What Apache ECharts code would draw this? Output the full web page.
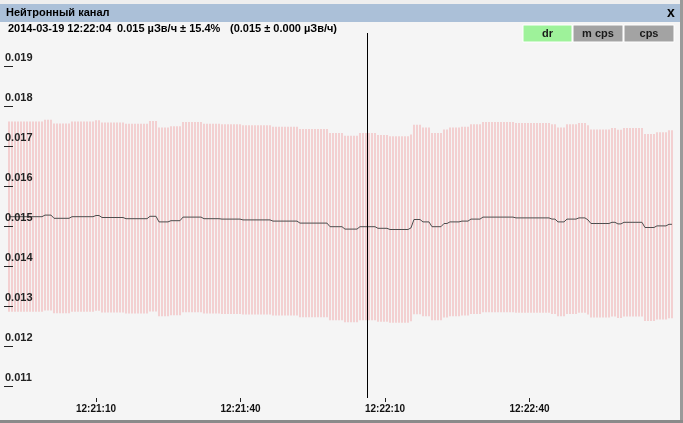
<!DOCTYPE html>
<html>
<head>
<meta charset="utf-8">
<script src="https://cdn.jsdelivr.net/npm/echarts@6/dist/echarts.min.js"></script>
<style>
  html, body { margin: 0; padding: 0; background: #f5f5f5; }
  #chart { width: 683px; height: 423px; }
</style>
</head>
<body>
<div id="chart"></div>
<script>
// sample times: seconds since midnight, first sample ~12:20:52
var startTime = 44451.94;
var sampleStep = 0.6228;

// dose rate, µЗв/ч
var dose = [
  0.01525, 0.01525, 0.01525, 0.01525, 0.01525, 0.01525, 0.01525, 0.01525, 0.01525, 0.01525, 0.01525, 0.01525,
  0.01529, 0.01529, 0.01529, 0.01521, 0.01521, 0.01521, 0.01521, 0.01521, 0.01521, 0.01525, 0.01525, 0.01525,
  0.01525, 0.01525, 0.01525, 0.01525, 0.01525, 0.01528, 0.01528, 0.01523, 0.01523, 0.01523, 0.01523, 0.01523,
  0.01523, 0.01523, 0.01523, 0.01520, 0.01520, 0.01520, 0.01520, 0.01520, 0.01520, 0.01520, 0.01520, 0.01526,
  0.01526, 0.01526, 0.01512, 0.01512, 0.01512, 0.01512, 0.01515, 0.01515, 0.01515, 0.01515, 0.01524, 0.01524,
  0.01524, 0.01524, 0.01524, 0.01524, 0.01524, 0.01520, 0.01520, 0.01520, 0.01520, 0.01520, 0.01520, 0.01519,
  0.01519, 0.01519, 0.01519, 0.01519, 0.01519, 0.01519, 0.01517, 0.01517, 0.01517, 0.01517, 0.01517, 0.01517,
  0.01517, 0.01517, 0.01517, 0.01517, 0.01514, 0.01514, 0.01514, 0.01514, 0.01514, 0.01514, 0.01514, 0.01514,
  0.01514, 0.01509, 0.01509, 0.01509, 0.01509, 0.01509, 0.01509, 0.01509, 0.01509, 0.01509, 0.01509, 0.01500,
  0.01500, 0.01500, 0.01500, 0.01500, 0.01494, 0.01494, 0.01494, 0.01494, 0.01494, 0.01500, 0.01500, 0.01500,
  0.01500, 0.01500, 0.01500, 0.01496, 0.01496, 0.01496, 0.01496, 0.01493, 0.01493, 0.01493, 0.01493, 0.01493,
  0.01493, 0.01493, 0.01497, 0.01518, 0.01518, 0.01518, 0.01512, 0.01512, 0.01512, 0.01500, 0.01500, 0.01500,
  0.01500, 0.01508, 0.01508, 0.01512, 0.01512, 0.01512, 0.01512, 0.01514, 0.01514, 0.01514, 0.01519, 0.01519,
  0.01519, 0.01519, 0.01524, 0.01524, 0.01524, 0.01524, 0.01524, 0.01524, 0.01524, 0.01524, 0.01524, 0.01524,
  0.01524, 0.01522, 0.01522, 0.01522, 0.01522, 0.01522, 0.01522, 0.01522, 0.01522, 0.01522, 0.01522, 0.01522,
  0.01522, 0.01519, 0.01519, 0.01512, 0.01512, 0.01512, 0.01519, 0.01519, 0.01519, 0.01519, 0.01522, 0.01522,
  0.01522, 0.01517, 0.01508, 0.01508, 0.01508, 0.01508, 0.01508, 0.01508, 0.01508, 0.01511, 0.01511, 0.01507,
  0.01507, 0.01511, 0.01511, 0.01511, 0.01511, 0.01511, 0.01511, 0.01511, 0.01498, 0.01498, 0.01498, 0.01498,
  0.01502, 0.01502, 0.01502, 0.01502, 0.01506, 0.01506
];
var relErr = 0.156;

var yTicks = [0.011, 0.012, 0.013, 0.014, 0.015, 0.016, 0.017, 0.018, 0.019];
var xTicks = [44470, 44500, 44530, 44560]; // 12:21:10 ... 12:22:40
var cursorTime = 44526.4;

var headerTime = '2014-03-19 12:22:04';
var headerValue = '0.015 µЗв/ч ± 15.4%';
var headerAvg = '(0.015 ± 0.000 µЗв/ч)';
var buttons = ['dr', 'm cps', 'cps'];

var font = '"Liberation Sans", Arial, sans-serif';

function hms(s) {
    s = Math.round(s);
    var h = Math.floor(s / 3600), m = Math.floor((s % 3600) / 60), sec = s % 60;
    function p(n) { return (n < 10 ? '0' : '') + n; }
    return p(h) + ':' + p(m) + ':' + p(sec);
}

var lineData = [], barData = [];
for (var i = 0; i < dose.length; i++) {
    var t = startTime + i * sampleStep;
    lineData.push([t, dose[i]]);
    barData.push([t, dose[i] * (1 - relErr), dose[i] * (1 + relErr)]);
}

var chart = echarts.init(document.getElementById('chart'));

var btnColors = ['#9ef29a', '#a3a3a3', '#a3a3a3'];
var btnX = [523, 573, 624];
var btnW = [49, 50, 50];
var graphics = [
    { type: 'rect', shape: { x: 0, y: 0, width: 683, height: 4 }, style: { fill: '#eeeeee' } },
    { type: 'rect', shape: { x: 0, y: 4, width: 683, height: 18 }, style: { fill: '#abc0d8' } },
    { type: 'text', x: 6, y: 13, style: { text: 'Нейтронный канал', font: 'bold 11px ' + font, fill: '#000', verticalAlign: 'middle' } },
    { type: 'text', x: 671, y: 13, style: { text: 'x', font: 'bold 14px ' + font, fill: '#000', align: 'center', verticalAlign: 'middle' } },
    { type: 'text', x: 8, y: 29, style: { text: headerTime, font: 'bold 11px ' + font, fill: '#000', verticalAlign: 'middle' } },
    { type: 'text', x: 117, y: 29, style: { text: headerValue, font: 'bold 11px ' + font, fill: '#000', verticalAlign: 'middle' } },
    { type: 'text', x: 230, y: 29, style: { text: headerAvg, font: 'bold 11px ' + font, fill: '#000', verticalAlign: 'middle' } },
    { type: 'rect', shape: { x: 680, y: 0, width: 3, height: 423 }, style: { fill: '#9a9a9a' } },
    { type: 'rect', shape: { x: 0, y: 420, width: 683, height: 3 }, style: { fill: '#8a8a8a' } }
];
buttons.forEach(function (b, k) {
    graphics.push({ type: 'rect', shape: { x: btnX[k], y: 25, width: btnW[k], height: 17 },
        style: { fill: btnColors[k], stroke: '#ffffff', lineWidth: 1 } });
    graphics.push({ type: 'text', x: btnX[k] + btnW[k] / 2, y: 33.5,
        style: { text: b, font: 'bold 11px ' + font, fill: '#1a1a1a', align: 'center', verticalAlign: 'middle' } });
});

var option = {
    animation: false,
    backgroundColor: '#f5f5f5',
    graphic: graphics,
    grid: { left: 4, right: 4, top: 33, bottom: 25 },
    xAxis: {
        type: 'value',
        min: 44450.9,
        max: 44591.04,
        axisLine: { show: false },
        splitLine: { show: false },
        axisTick: { show: true, customValues: xTicks, length: 4, lineStyle: { color: '#222' } },
        axisLabel: {
            customValues: xTicks,
            margin: 6,
            formatter: function (v) { return hms(v); },
            fontFamily: font, fontWeight: 'bold', fontSize: 10, color: '#111'
        }
    },
    yAxis: {
        type: 'value',
        min: 0.0107175,
        max: 0.0198425,
        z: 10,
        axisLine: { show: false },
        splitLine: { show: false },
        axisTick: { show: true, inside: true, customValues: yTicks, length: 9, lineStyle: { color: '#222' } },
        axisLabel: {
            inside: true,
            customValues: yTicks,
            margin: 1,
            align: 'left',
            verticalAlign: 'bottom',
            padding: [0, 0, 3, 0],
            formatter: function (v) { return v.toFixed(3); },
            fontFamily: font, fontWeight: 'bold', fontSize: 11, color: '#222'
        }
    },
    series: [
        {
            type: 'custom',
            data: barData,
            encode: { x: 0, y: [1, 2] },
            renderItem: function (params, api) {
                var lo = api.coord([api.value(0), api.value(1)]);
                var hi = api.coord([api.value(0), api.value(2)]);
                return {
                    type: 'rect',
                    shape: { x: Math.round(lo[0]) - 1, y: hi[1], width: 2, height: lo[1] - hi[1] },
                    style: { fill: '#f3d0d1' }
                };
            },
            silent: true
        },
        {
            type: 'line',
            data: lineData,
            showSymbol: false,
            lineStyle: { color: '#4d4d4d', width: 1 },
            silent: true,
            markLine: {
                silent: true,
                symbol: 'none',
                label: { show: false },
                lineStyle: { color: '#000', width: 1, type: 'solid' },
                data: [{ xAxis: cursorTime }]
            }
        }
    ]
};
chart.setOption(option);
</script>
</body>
</html>
